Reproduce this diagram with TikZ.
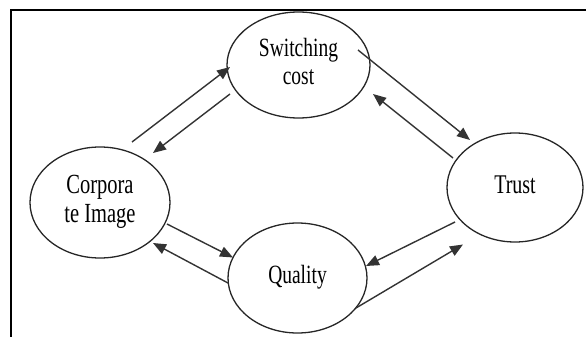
\documentclass[tikz,border=0pt]{standalone}
\usepackage{fontspec}
\setmainfont{Liberation Serif}
\usetikzlibrary{shapes.geometric,arrows.meta,calc}
\newcommand{\lbltext}[2]{\scalebox{1}[1.35]{\fontsize{#1}{21}\selectfont\begin{tabular}{@{}c@{}}#2\end{tabular}}}
\begin{document}
\begin{tikzpicture}[x=1pt,y=1pt,
  bubble/.style={ellipse,draw=black!85,line width=1.3pt,inner sep=0pt,outer sep=0pt,text=black},
  link/.style={draw=black!80,line width=1.4pt,-{Triangle[length=13pt,width=10.5pt]}},
  framerule/.style={draw=black,line width=2.2pt}]
\useasboundingbox (0,0) rectangle (586,-337);
\coordinate (fa) at (11,-337);
\coordinate (fc) at (586,-10);
\draw[framerule] (fa) -- (11,-10) -- (fc);
\node[bubble,minimum width=143pt,minimum height=106pt] (S) at (298.5,-65) {\lbltext{19.5}{Switching\\cost}};
\node[bubble,minimum width=136pt,minimum height=109pt] (T) at (515,-187.5) {\lbltext{20}{Trust\\ }};
\node[bubble,minimum width=140pt,minimum height=111pt] (C) at (100,-202.5) {\lbltext{20.5}{Corpora\\te Image}};
\node[bubble,minimum width=139pt,minimum height=110pt] (Q) at (297.5,-278) {\lbltext{19.5}{Quality\\ }};
\draw[link] ($(C)+(32,60.5)$) -- ($(S)+(-68.5,-2)$);
\draw[link] ($(S)+(-68.5,-29)$) -- ($(C)+(53,49.5)$);
\draw[link] ($(S)+(59.5,15)$) -- ($(T)+(-45,47.5)$);
\draw[link] ($(T)+(-62,29.5)$) -- ($(S)+(74.5,-29)$);
\draw[link] ($(C)+(67,-21.5)$) -- ($(Q)+(-64.5,20.5)$);
\draw[link] ($(Q)+(-69.5,-5)$) -- ($(C)+(53,-40.5)$);
\draw[link] ($(T)+(-60,-34.5)$) -- ($(Q)+(68.5,12)$);
\draw[link] ($(Q)+(58.5,-30)$) -- ($(T)+(-52,-57)$);
\end{tikzpicture}
\end{document}
